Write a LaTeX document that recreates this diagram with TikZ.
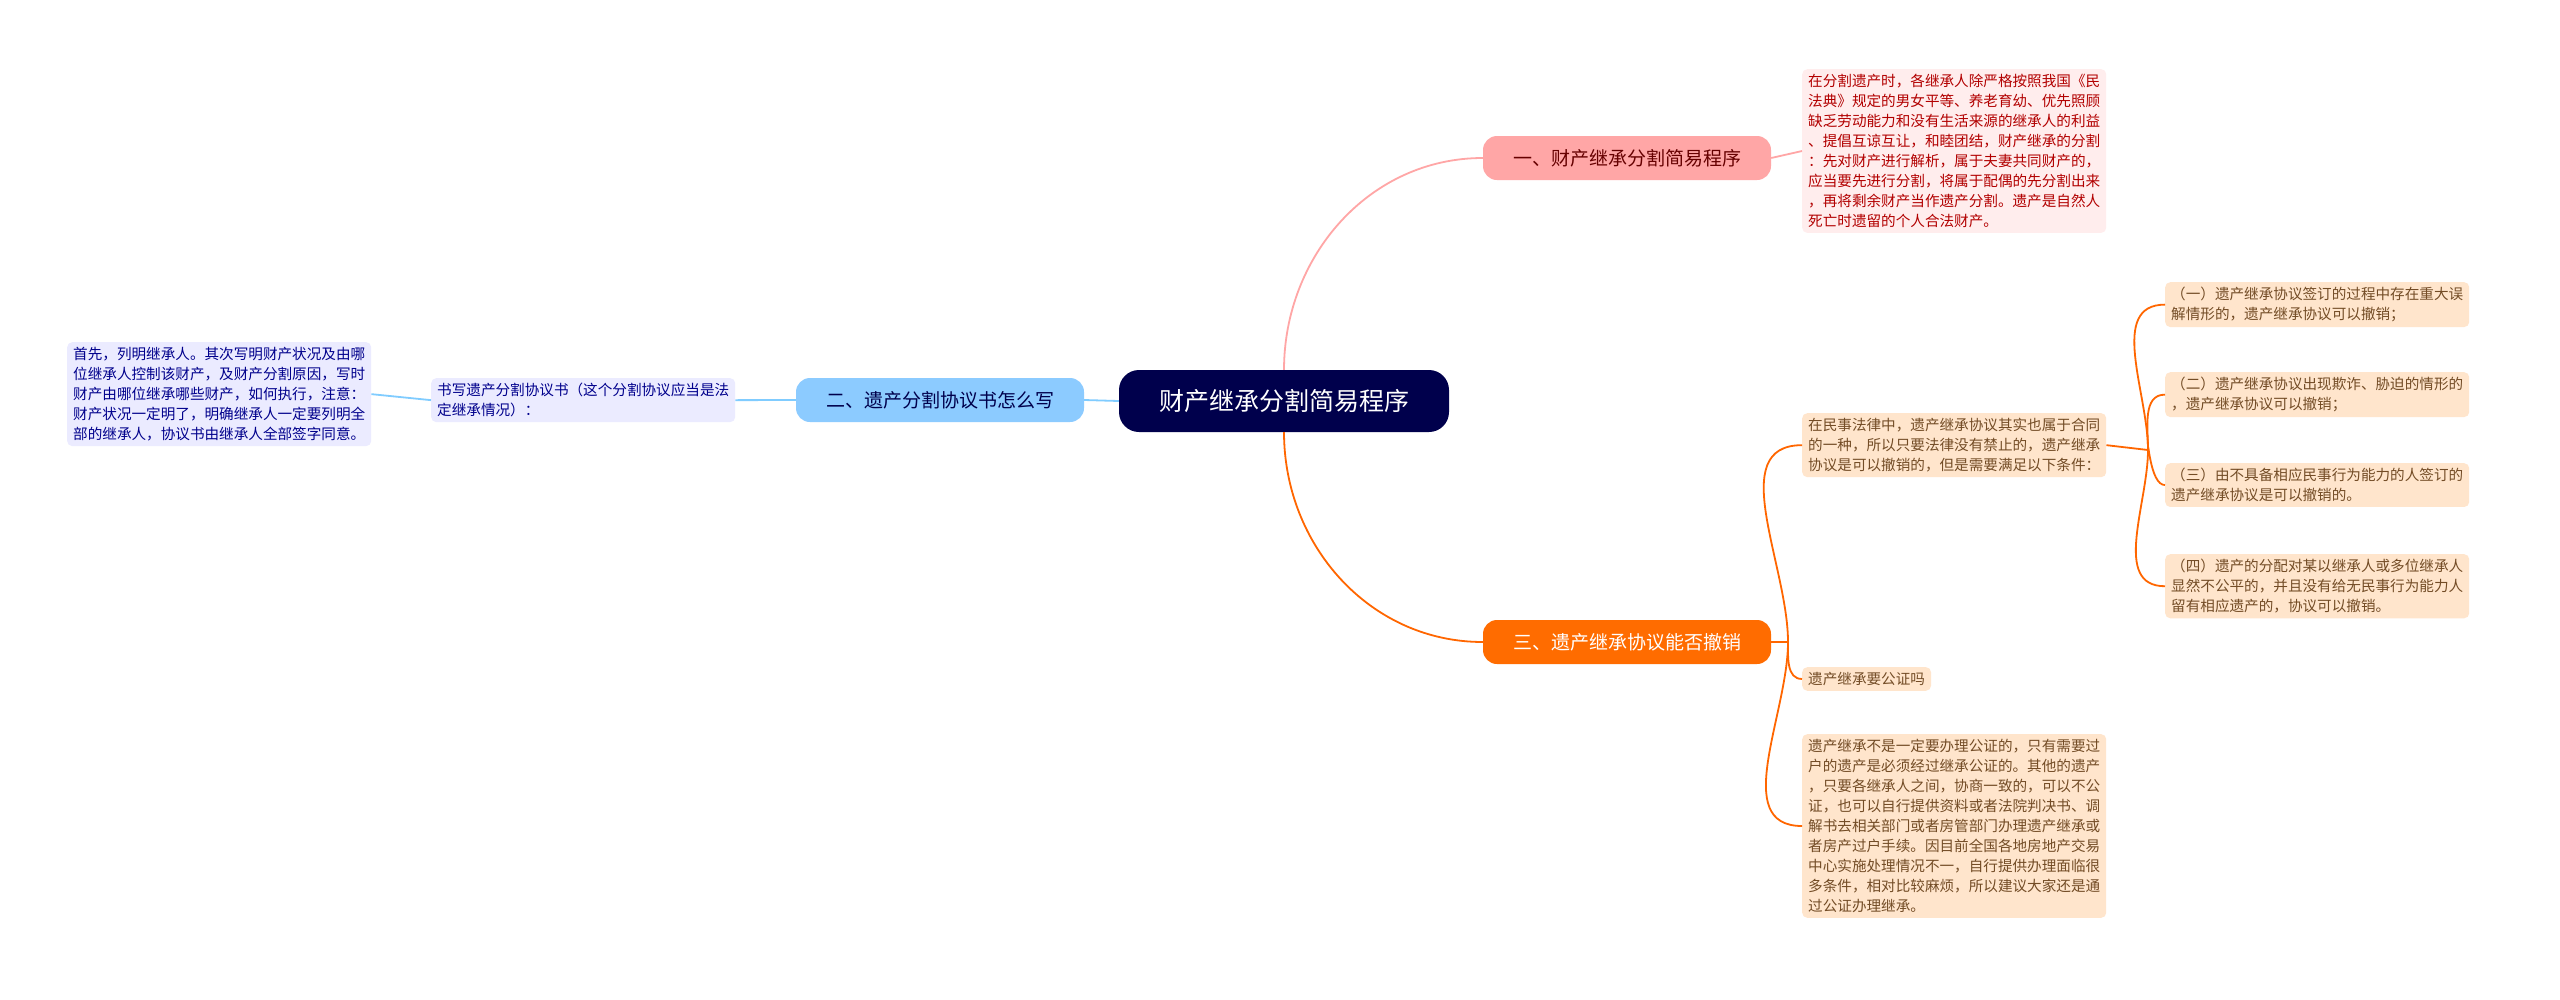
\documentclass[tikz,border=0pt]{standalone}
\usepackage{fontspec}
\setmainfont{Noto Sans CJK SC}
\begin{document}
\begin{tikzpicture}[x=1pt,y=-1pt,
  leaf/.style={rounded corners=5pt,align=left,inner xsep=6pt,inner ysep=5pt,font=\fontsize{14.6}{20}\selectfont,anchor=north west},
  rleaf/.style={leaf,fill=red!7,text=red!70!black},
  bleaf/.style={leaf,fill=blue!8,text=blue!55!black},
  oleaf/.style={leaf,fill=orange!20,text=brown!60!black},
  topic/.style={rounded corners=14pt,minimum height=44pt,minimum width=288pt,font=\fontsize{19}{22}\selectfont},
  rl/.style={draw=red!35,line width=1.8pt},
  bl/.style={draw=blue!40!cyan!50,line width=1.8pt},
  ol/.style={draw=orange!80!red,line width=1.8pt}]
\useasboundingbox (0,0) rectangle (2560,999);
\fill[white] (0,0) rectangle (2560,999);
\node[fill=blue!30!black,text=white,rounded corners=20pt,minimum width=330pt,minimum height=62pt,font=\fontsize{25}{28}\selectfont] (c) at (1284,401) {财产继承分割简易程序};
\node[topic,fill=red!35,text=red!40!black] (n1) at (1627,158) {一、财产继承分割简易程序};
\node[topic,fill=blue!45!cyan!45,text=blue!30!black] (n2) at (940,400) {二、遗产分割协议书怎么写};
\node[topic,fill=orange!85!red,text=white] (n3) at (1627,642) {三、遗产继承协议能否撤销};

\node[rleaf] (r1) at (1802,69) {在分割遗产时，各继承人除严格按照我国《民\\法典》规定的男女平等、养老育幼、优先照顾\\缺乏劳动能力和没有生活来源的继承人的利益\\、提倡互谅互让，和睦团结，财产继承的分割\\：先对财产进行解析，属于夫妻共同财产的，\\应当要先进行分割，将属于配偶的先分割出来\\，再将剩余财产当作遗产分割。遗产是自然人\\死亡时遗留的个人合法财产。};

\node[bleaf] (b1) at (431,378) {书写遗产分割协议书（这个分割协议应当是法\\定继承情况）：};
\node[bleaf] (b2) at (67,342) {首先，列明继承人。其次写明财产状况及由哪\\位继承人控制该财产，及财产分割原因，写时\\财产由哪位继承哪些财产，如何执行，注意：\\财产状况一定明了，明确继承人一定要列明全\\部的继承人，协议书由继承人全部签字同意。};

\node[oleaf] (o1) at (1802,413) {在民事法律中，遗产继承协议其实也属于合同\\的一种，所以只要法律没有禁止的，遗产继承\\协议是可以撤销的，但是需要满足以下条件：};
\node[oleaf] (o2) at (1802,667) {遗产继承要公证吗};
\node[oleaf] (o3) at (1802,734) {遗产继承不是一定要办理公证的，只有需要过\\户的遗产是必须经过继承公证的。其他的遗产\\，只要各继承人之间，协商一致的，可以不公\\证，也可以自行提供资料或者法院判决书、调\\解书去相关部门或者房管部门办理遗产继承或\\者房产过户手续。因目前全国各地房地产交易\\中心实施处理情况不一，自行提供办理面临很\\多条件，相对比较麻烦，所以建议大家还是通\\过公证办理继承。};

\node[oleaf] (p1) at (2165,282) {（一）遗产继承协议签订的过程中存在重大误\\解情形的，遗产继承协议可以撤销；};
\node[oleaf] (p2) at (2165,372) {（二）遗产继承协议出现欺诈、胁迫的情形的\\，遗产继承协议可以撤销；};
\node[oleaf] (p3) at (2165,463) {（三）由不具备相应民事行为能力的人签订的\\遗产继承协议是可以撤销的。};
\node[oleaf] (p4) at (2165,554) {（四）遗产的分配对某以继承人或多位继承人\\显然不公平的，并且没有给无民事行为能力人\\留有相应遗产的，协议可以撤销。};

\draw[rl] (c.north) to[out=90,in=180] (n1.west);
\draw[ol] (c.south) to[out=-90,in=180] (n3.west);
\draw[bl] (c.west) -- (n2.east);
\draw[rl] (n1.east) -- (r1.west);
\draw[bl] (n2.west) -- (b1.east);
\draw[bl] (b1.west) -- (b2.east);
\coordinate (j3) at (1788,642);
\draw[ol] (n3.east) -- (j3);
\draw[ol] (j3) to[out=90,in=180] (o1.west);
\foreach \t in {o2,o3} \draw[ol] (j3) to[out=-90,in=180] (\t.west);
\coordinate (j4) at (2148,450);
\draw[ol] (o1.east) -- (j4);
\foreach \t in {p1,p2,p3} \draw[ol] (j4) to[out=90,in=180] (\t.west);
\draw[ol] (j4) to[out=-90,in=180] (p4.west);
\end{tikzpicture}
\end{document}
